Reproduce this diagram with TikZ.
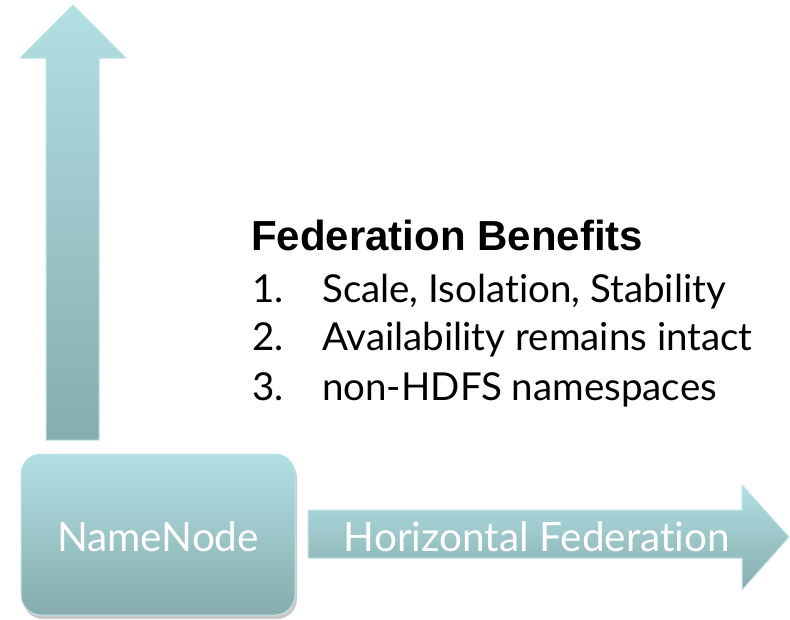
\documentclass[tikz,border=0pt]{standalone}
\usepackage{fontspec}
\setmainfont{Lato}[Ligatures=NoCommon]
\newfontfamily\headfont{Liberation Sans}
\usepackage{xcolor}
\definecolor{tealtop}{RGB}{178,223,227}
\definecolor{tealbot}{RGB}{134,172,174}
\definecolor{tealedge}{RGB}{190,228,232}
\definecolor{shadowgray}{RGB}{200,200,200}

\begin{document}
\begin{tikzpicture}[x=1pt, y=-1pt, line join=round,
    shape fill/.style={top color=tealtop, bottom color=tealbot, draw=tealedge, line width=1pt},
    shape shadow/.style={fill=shadowgray, draw=none},
    white text/.style={text=white, font=\fontsize{40.5}{46}\selectfont, inner sep=0pt},
    list text/.style={font=\fontsize{38.5}{44}\selectfont, anchor=base west, inner sep=0pt}]
    \useasboundingbox (0,0) rectangle (790,619);

    % Vertical arrow
    \coordinate (U1) at (46,440);
    \coordinate (U2) at (46,58);
    \coordinate (U3) at (20,58);
    \coordinate (UT) at (73,5);
    \coordinate (U5) at (126,58);
    \coordinate (U6) at (99,58);
    \coordinate (U7) at (99,440);
    \fill[shape shadow, shift={(2,3)}] (U1) -- (U2) -- (U3) -- (UT) -- (U5) -- (U6) -- (U7) -- cycle;
    \shade[shape fill] (U1) -- (U2) -- (U3) -- (UT) -- (U5) -- (U6) -- (U7) -- cycle;

    % NameNode box
    \fill[shape shadow, rounded corners=20pt] (23,458) rectangle (297,619);
    \shade[shape fill, rounded corners=20pt] (21,454) rectangle (295,615);
    \node[white text] (nn) at (158,537) {NameNode};

    % Horizontal arrow
    \coordinate (H1) at (308,510);
    \coordinate (H2) at (742,510);
    \coordinate (H3) at (742,485);
    \coordinate (HT) at (789,537);
    \coordinate (H5) at (742,590);
    \coordinate (H6) at (742,558);
    \coordinate (H7) at (308,558);
    \fill[shape shadow, shift={(1,3)}] (H1) -- (H2) -- (H3) -- (HT) -- (H5) -- (H6) -- (H7) -- cycle;
    \shade[shape fill] (H1) -- (H2) -- (H3) -- (HT) -- (H5) -- (H6) -- (H7) -- cycle;
    \node[white text] (hf) at (537,537) {Horizontal Federation};

    % Benefits list
    \node[font=\headfont\bfseries\fontsize{42}{48}\selectfont, anchor=base west, inner sep=0pt] (head) at (251,250) {Federation Benefits};
    \node[list text] (n1) at (252,302) {1.};
    \node[list text] (t1) at (322,302) {Scale, Isolation, Stability};
    \node[list text] (n2) at (252,350) {2.};
    \node[list text] (t2) at (322,350) {Availability remains intact};
    \node[list text] (n3) at (252,400) {3.};
    \node[list text] (t3) at (322,400) {non-HDFS namespaces};
\end{tikzpicture}
\end{document}
